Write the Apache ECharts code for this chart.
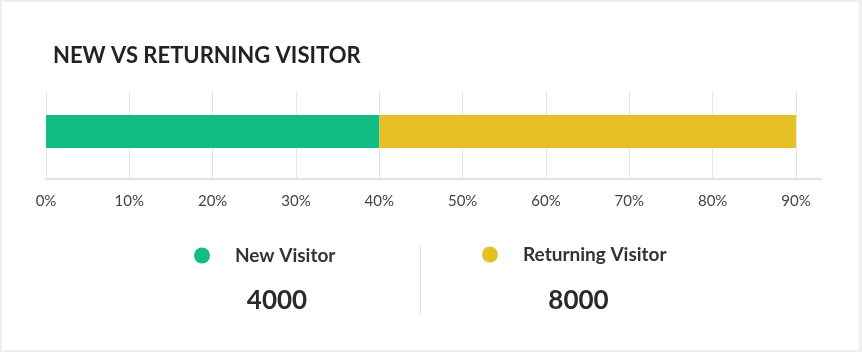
<!DOCTYPE html>
<html>
<head>
<meta charset="utf-8">
<style>
  html, body { margin: 0; padding: 0; width: 862px; height: 352px; background: #efefef; overflow: hidden; }
  #card { position: absolute; left: 2px; top: 2px; width: 857px; height: 348px; background: #ffffff; }
  #main { position: absolute; left: 0; top: 0; width: 862px; height: 352px; }
</style>
<script src="https://cdn.jsdelivr.net/npm/echarts@6/dist/echarts.min.js"></script>
</head>
<body>
<div id="card"></div>
<div id="main"></div>
<script>
// ---- data ----
const titleText = 'NEW VS RETURNING VISITOR';
const categories = ['Visitors'];
const seriesNames = ['New Visitor', 'Returning Visitor'];
const sharePercent = [40, 50];       // bar segment lengths (%)
const visitorCounts = [4000, 8000];  // totals shown under the legend
const axisMin = 0;
const axisMax = 90;
const axisInterval = 10;
const colors = ['#10bd85', '#e6c125'];

const FONT = 'Lato, "Noto Sans", sans-serif';
const chart = echarts.init(document.getElementById('main'), null, { renderer: 'canvas' });

const legendBase = {
  orient: 'horizontal',
  padding: 0,
  icon: 'circle',
  itemWidth: 16,
  itemHeight: 16,
  selectedMode: false,
  textStyle: { fontFamily: FONT, fontSize: 19, fontWeight: 'bold', color: '#333333', padding: [5, 0, 0, 20] }
};

const option = {
  animation: false,
  title: {
    text: titleText,
    left: 53,
    top: 45,
    padding: 0,
    textStyle: { fontFamily: FONT, fontSize: 22, fontWeight: 'bold', color: '#222222' }
  },
  color: colors,
  legend: [
    Object.assign({}, legendBase, { data: [seriesNames[0]], left: 194, top: 246 }),
    Object.assign({}, legendBase, { data: [seriesNames[1]], left: 482, top: 245 })
  ],
  grid: [
    { left: 46, top: 91, width: 750, height: 87, containLabel: false },
    { left: 46, top: 115, width: 750, height: 33, containLabel: false },
    { left: 46, top: 91, width: 775, height: 88, containLabel: false }
  ],
  xAxis: [
    {
      gridIndex: 0, type: 'value', min: axisMin, max: axisMax, interval: axisInterval,
      axisLine: { show: false }, axisTick: { show: false },
      splitLine: { show: true, lineStyle: { color: '#e6e6e6', width: 1 } },
      axisLabel: { formatter: '{value}%', margin: 16, fontFamily: FONT, fontSize: 15, color: '#444444' }
    },
    {
      gridIndex: 1, type: 'value', min: axisMin, max: axisMax, show: false
    },
    {
      gridIndex: 2, type: 'value', min: axisMin, max: axisMax,
      axisLine: { show: true, lineStyle: { color: '#e2e2e2', width: 2 } },
      axisTick: { show: false }, axisLabel: { show: false }, splitLine: { show: false }
    }
  ],
  yAxis: [
    { gridIndex: 0, type: 'category', data: categories, show: false },
    { gridIndex: 1, type: 'category', data: categories, show: false },
    { gridIndex: 2, type: 'category', data: categories, show: false }
  ],
  series: seriesNames.map(function (name, i) {
    return {
      name: name,
      type: 'bar',
      xAxisIndex: 1,
      yAxisIndex: 1,
      stack: 'visitors',
      barWidth: '100%',
      itemStyle: { color: colors[i] },
      data: [sharePercent[i]]
    };
  }),
  graphic: [
    {
      type: 'text', x: 277, y: 301,
      style: { text: String(visitorCounts[0]), align: 'center', verticalAlign: 'middle',
               font: 'bold 26px ' + FONT, fill: '#2a2a2a' }
    },
    {
      type: 'text', x: 578.5, y: 301,
      style: { text: String(visitorCounts[1]), align: 'center', verticalAlign: 'middle',
               font: 'bold 26px ' + FONT, fill: '#2a2a2a' }
    },
    {
      type: 'line',
      shape: { x1: 420.5, y1: 245, x2: 420.5, y2: 315 },
      style: { stroke: '#e0e0e0', lineWidth: 1 }
    }
  ]
};

chart.setOption(option);
</script>
</body>
</html>
